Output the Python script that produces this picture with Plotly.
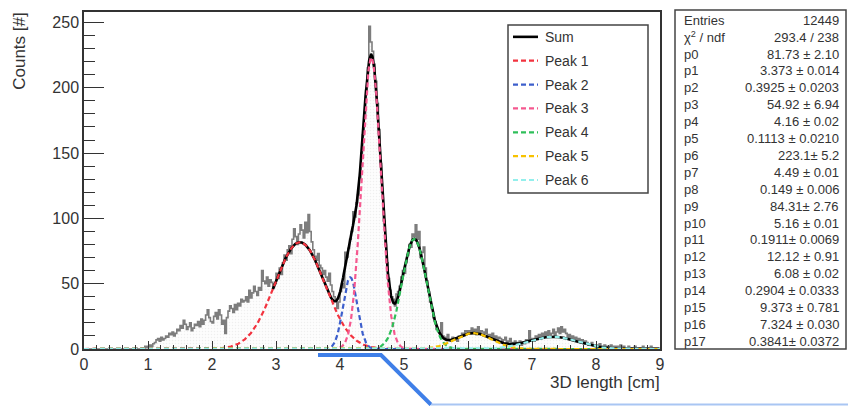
import numpy as np
import plotly.graph_objects as go

# ---- histogram: 360 bins of 0.025 cm between 0 and 9 cm ----
x_lo, x_hi = 0.0, 9.0
counts = [
    0, 0, 0, 0, 0, 0, 0, 0, 0, 0, 0, 0, 0, 0, 0, 0, 0, 0, 0, 0,                      # 0.0-0.5
    0, 0, 0, 0, 0, 0, 0, 0, 0, 0, 0, 0, 1, 0, 0, 0, 1, 0, 2, 1,                      # 0.5-1.0
    2, 3, 2, 4, 5, 7, 8, 6, 9, 7, 8, 10, 9, 12, 11, 13, 10, 12, 15, 14,              # 1.0-1.5
    18, 16, 22, 19, 15, 17, 20, 14, 16, 19, 18, 21, 17, 23, 19, 22, 26, 30, 24, 21,  # 1.5-2.0
    20, 25, 28, 23, 30, 26, 19, 22, 12, 24, 29, 33, 31, 28, 34, 30, 35, 33, 38, 36,  # 2.0-2.5
    37, 40, 36, 45, 39, 43, 48, 44, 41, 47, 45, 60, 52, 50, 55, 48, 53, 51, 47, 50,  # 2.5-3.0
    58, 54, 62, 57, 66, 72, 68, 76, 79, 73, 84, 92, 86, 80, 88, 95, 91, 85, 97, 89,  # 3.0-3.5
    103, 90, 82, 76, 71, 68, 73, 64, 62, 57, 60, 55, 52, 58, 49, 44, 40, 38, 31, 36, # 3.5-4.0
    44, 50, 47, 74, 70, 77, 84, 90, 105, 101,
    112, 118, 131, 150, 164, 180, 198, 215, 247, 235,                                # 4.0-4.5
    228, 218, 205, 188, 168, 142, 120, 98, 80, 66,
    54, 45, 40, 38, 33, 42, 44, 48, 55, 60,                                          # 4.5-5.0
    58, 66, 72, 80, 78, 88, 86, 95, 84, 90, 70, 74, 78, 62, 52, 44, 36, 31, 24, 21,  # 5.0-5.5
    15, 14, 12, 20, 10, 9, 8, 11, 7, 6, 9, 7, 8, 6, 10, 9, 12, 10, 14, 13,           # 5.5-6.0
    14, 12, 16, 13, 15, 11, 17, 12, 14, 13, 12, 15, 10, 11, 9, 12, 8, 10, 7, 9,      # 6.0-6.5
    8, 6, 7, 9, 5, 6, 8, 5, 4, 6, 5, 4, 6, 3, 5, 4, 7, 5, 14, 6,                     # 6.5-7.0
    8, 6, 10, 9, 11, 8, 12, 10, 13, 9, 14, 11, 12, 15, 10, 13, 16, 12, 17, 13,       # 7.0-7.5
    15, 12, 9, 11, 8, 10, 7, 9, 6, 8, 5, 7, 4, 6, 5, 3, 4, 5, 3, 2,                  # 7.5-8.0
    3, 2, 4, 2, 1, 3, 2, 1, 2, 3, 1, 2, 0, 2, 1, 3, 1, 2, 1, 0,                      # 8.0-8.5
    2, 1, 0, 1, 2, 1, 0, 1, 1, 2, 0, 1, 1, 0, 2, 1, 0, 1, 1, 0,                      # 8.5-9.0
]

# ---- fit result (6 gaussians: amplitude, mean, sigma per peak) ----
stat_names = ["Entries", "χ<sup>2</sup> / ndf"] + [f"p{i}" for i in range(18)]
stat_values = [
    "12449", "293.4 / 238",
    "81.73 ± 2.10", "3.373 ± 0.014", "0.3925 ± 0.0203",
    "54.92 ± 6.94", "4.16 ± 0.02", "0.1113 ± 0.0210",
    "223.1± 5.2", "4.49 ± 0.01", "0.149 ± 0.006",
    "84.31± 2.76", "5.16 ± 0.01", "0.1911± 0.0069",
    "12.12 ± 0.91", "6.08 ± 0.02", "0.2904 ± 0.0333",
    "9.373 ± 0.781", "7.324 ± 0.030", "0.3841± 0.0372",
]
params = [float(s.split("±")[0]) for s in stat_values[2:]]

peak_names = ["Peak 1", "Peak 2", "Peak 3", "Peak 4", "Peak 5", "Peak 6"]
peak_colors = ["#f2333f", "#3d5fcc", "#f5588f", "#2fbf5a", "#f7c200", "#93efec"]
sum_range = [2.95, 9.0]

# ---- frame geometry (pixels) ----
W, H = 848, 406
L, R, T, B = 84, 660, 10, 349
y_top = 258


def px(x):
    return (x - L) / (R - L)


def py(y):
    return (B - y) / (B - T)


def gauss(x, a, m, s):
    return a * np.exp(-0.5 * ((x - m) / s) ** 2)


fig = go.Figure()

# histogram as steps with a faint dotted fill
n_bins = len(counts)
edges = np.linspace(x_lo, x_hi, n_bins + 1)
fig.add_trace(go.Scatter(
    x=edges, y=counts + [counts[-1]], mode="lines",
    line=dict(shape="hv", color="#7d7d7d", width=1.6),
    fill="tozeroy", fillcolor="#fcfcfc",
    fillpattern=dict(shape=".", fgcolor="#e2e2e2", bgcolor="#fdfdfd", size=3, solidity=0.2),
    hoverinfo="skip",
))

# sum of the peaks over the fit range
xs = np.linspace(sum_range[0], sum_range[1], 1200)
ys = sum(gauss(xs, *params[3 * k:3 * k + 3]) for k in range(6))
fig.add_trace(go.Scatter(x=xs, y=ys, mode="lines", line=dict(color="black", width=2.6)))

# single peaks over the full axis
xf = np.linspace(x_lo, x_hi, 1800)
for k in range(6):
    fig.add_trace(go.Scatter(
        x=xf, y=gauss(xf, *params[3 * k:3 * k + 3]), mode="lines",
        line=dict(color=peak_colors[k], width=2.2, dash="5px,3px"),
    ))

shapes = []
annotations = []

# legend box
lg_x0, lg_x1, lg_y0, lg_y1 = 508, 648, 23, 192
shapes.append(dict(type="rect", xref="paper", yref="paper",
                   x0=px(lg_x0), x1=px(lg_x1), y0=py(lg_y1), y1=py(lg_y0),
                   line=dict(color="#444", width=1.5), fillcolor="white", layer="above"))
lg_rows = [35 + 24 * i for i in range(7)]
lg_labels = ["Sum"] + peak_names
lg_styles = [dict(color="black", width=2.6)] + [
    dict(color=c, width=2.2, dash="5px,3px") for c in peak_colors]
for yrow, lab, sty in zip(lg_rows, lg_labels, lg_styles):
    shapes.append(dict(type="line", xref="paper", yref="paper",
                       x0=px(513), x1=px(538), y0=py(yrow), y1=py(yrow), line=sty, layer="above"))
    annotations.append(dict(xref="paper", yref="paper", x=px(543), y=py(yrow),
                            text=lab, showarrow=False, xanchor="left", yanchor="middle",
                            font=dict(size=14, color="#333")))

# statistics box
st_x0, st_x1, st_y0, st_y1 = 675, 846, 8, 349
shapes.append(dict(type="rect", xref="paper", yref="paper",
                   x0=px(st_x0), x1=px(st_x1), y0=py(st_y1), y1=py(st_y0),
                   line=dict(color="#444", width=1.5), fillcolor="white"))
for i, (nm, val) in enumerate(zip(stat_names, stat_values)):
    yrow = 18.3 + 17.0 * i
    annotations.append(dict(xref="paper", yref="paper", x=px(682), y=py(yrow), text=nm,
                            showarrow=False, xanchor="left", yanchor="middle",
                            font=dict(size=13, color="#333")))
    annotations.append(dict(xref="paper", yref="paper", x=px(841), y=py(yrow), text=val,
                            showarrow=False, xanchor="right", yanchor="middle",
                            font=dict(size=13, color="#333")))

# axis titles
annotations.append(dict(xref="paper", yref="paper", x=px(20), y=py(49), text="Counts [#]",
                        textangle=-90, showarrow=False, xanchor="center", yanchor="middle",
                        font=dict(size=17, color="#333")))
annotations.append(dict(xref="paper", yref="paper", x=px(662), y=py(383), text="3D length [cm]",
                        showarrow=False, xanchor="right", yanchor="middle",
                        font=dict(size=17, color="#333")))

# blue marker strokes along the bottom edge
shapes.append(dict(type="path", xref="paper", yref="paper",
                   path=f"M {px(318)} {py(355)} L {px(381)} {py(355)} L {px(431)} {py(405)}",
                   line=dict(color="#3f7fe8", width=4)))
shapes.append(dict(type="line", xref="paper", yref="paper",
                   x0=px(431), x1=px(848), y0=py(404.8), y1=py(404.8),
                   line=dict(color="#a9c6f3", width=2)))

fig.update_layout(
    width=W, height=H,
    margin=dict(l=L, r=W - R, t=T, b=H - B),
    paper_bgcolor="white", plot_bgcolor="white",
    showlegend=False,
    font=dict(family="Liberation Sans", color="#333"),
    shapes=shapes, annotations=annotations,
    xaxis=dict(range=[x_lo, x_hi], tickvals=list(range(10)), ticks="inside", ticklen=8,
               tickcolor="#333", tickwidth=1, showline=True, linecolor="#333", linewidth=1.5,
               mirror=True, showgrid=False, zeroline=False, tickfont=dict(size=16),
               minor=dict(dtick=0.2, ticks="inside", ticklen=4, tickcolor="#333")),
    yaxis=dict(range=[0, y_top], tickvals=[0, 50, 100, 150, 200, 250], ticks="inside",
               ticklen=20, tickcolor="#333", tickwidth=1, showline=True, linecolor="#333",
               linewidth=1.5, mirror=True, showgrid=False, zeroline=False,
               tickfont=dict(size=16),
               minor=dict(dtick=10, ticks="inside", ticklen=11, tickcolor="#333")),
)

fig.write_html("out.html")
